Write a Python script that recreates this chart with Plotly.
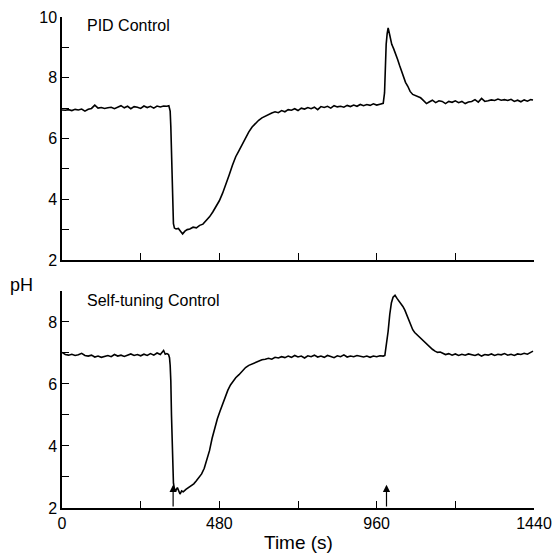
import plotly.graph_objects as go

# ---- data ----
pid_t = [0,10,20,30,40,50,60,70,80,90,100,110,120,130,140,150,160,170,180,190,200,210,220,230,240,250,260,270,280,290,300,310,320,326,
         330,332,334,336,338,340,343,348,355,362,368,375,382,390,400,410,420,430,440,450,460,470,480,490,500,510,520,530,540,550,560,570,580,590,
         600,610,620,630,640,650,660,670,680,690,700,710,720,730,740,750,760,770,780,790,800,810,820,830,840,850,860,870,880,890,900,910,920,930,
         940,950,960,970,975,980,984,986,989,992,995,1000,1006,1012,1018,1024,1030,1036,1042,1048,1055,1062,1070,1078,1086,1094,1100,1106,1112,
         1120,1130,1140,1150,1160,1170,1180,1190,1200,1210,1220,1230,1240,1250,1260,1270,1280,1290,1300,1310,1320,1330,1340,1350,1360,1370,1380,
         1390,1400,1410,1420,1430,1437]
pid_ph = [6.94,6.93,6.95,6.92,6.96,6.94,6.97,6.90,6.96,6.99,7.10,7.00,7.02,6.99,7.01,7.03,6.98,7.02,7.08,7.01,7.06,6.98,7.05,7.03,6.99,7.07,7.02,7.06,7.00,7.07,7.04,7.07,7.06,7.08,
          6.90,6.40,5.50,4.50,3.70,3.20,3.05,3.02,3.04,2.92,2.86,2.95,3.00,3.02,3.08,3.06,3.14,3.18,3.30,3.42,3.58,3.75,3.95,4.20,4.47,4.80,5.12,5.40,5.60,5.82,6.02,6.22,6.38,6.50,
          6.60,6.68,6.74,6.80,6.84,6.88,6.85,6.92,6.88,6.95,6.93,6.98,6.92,7.00,6.97,7.02,6.98,7.03,6.95,7.05,7.02,7.06,7.00,7.08,7.04,7.06,7.03,7.09,7.05,7.10,7.06,7.12,7.08,7.12,
          7.09,7.14,7.10,7.13,7.14,7.16,7.50,8.20,9.10,9.45,9.64,9.40,9.10,8.95,8.80,8.60,8.40,8.20,8.00,7.85,7.72,7.55,7.45,7.42,7.38,7.34,7.28,7.22,7.15,
          7.20,7.26,7.18,7.24,7.22,7.15,7.22,7.19,7.24,7.18,7.22,7.15,7.20,7.22,7.28,7.20,7.32,7.22,7.24,7.27,7.25,7.30,7.26,7.28,7.25,7.29,7.22,
          7.26,7.21,7.27,7.23,7.28,7.27]

st_t = [0,10,20,30,40,50,60,70,80,90,100,110,120,130,140,150,160,170,180,190,200,210,220,230,240,250,260,270,280,290,300,310,315,320,325,328,
        330,332,334,336,338,340,343,348,352,356,360,365,370,378,386,394,402,410,418,426,434,442,450,458,466,474,482,490,498,506,514,522,530,540,550,
        560,570,580,590,600,610,620,630,640,650,660,670,680,690,700,710,720,730,740,750,760,770,780,790,800,810,820,830,840,850,860,870,880,890,
        900,910,920,930,940,950,960,970,980,985,990,995,1000,1005,1010,1016,1022,1028,1034,1040,1046,1052,1058,1064,1070,1076,1082,1088,1094,1100,
        1106,1112,1118,1124,1130,1138,1146,1154,1162,1170,1180,1190,1200,1210,1220,1230,1240,1250,1260,1270,1280,1290,1300,1310,1320,1330,1340,
        1350,1360,1370,1380,1390,1400,1410,1420,1430,1437]
st_ph = [7.02,6.95,6.93,6.96,6.92,6.94,6.99,6.92,6.90,6.93,6.87,6.90,6.86,6.88,6.92,6.88,6.95,6.90,6.93,6.89,6.94,6.97,6.92,6.95,6.91,6.96,6.92,6.98,6.93,7.00,6.95,7.08,6.96,6.98,6.95,6.85,
         6.60,6.10,5.00,4.00,3.20,2.80,2.62,2.58,2.66,2.52,2.45,2.55,2.52,2.60,2.66,2.72,2.78,2.88,2.98,3.10,3.28,3.55,3.85,4.25,4.60,4.88,5.12,5.37,5.60,5.80,5.97,6.10,6.20,6.30,6.42,
         6.53,6.60,6.65,6.68,6.74,6.78,6.80,6.83,6.80,6.86,6.84,6.88,6.85,6.90,6.86,6.92,6.87,6.90,6.84,6.91,6.88,6.93,6.87,6.90,6.86,6.92,6.89,6.85,6.91,6.88,6.94,6.87,6.90,6.88,
         6.92,6.89,6.87,6.90,6.86,6.90,6.88,6.91,6.90,6.92,7.25,7.70,8.25,8.62,8.80,8.86,8.76,8.68,8.60,8.50,8.38,8.22,8.06,7.92,7.75,7.66,7.60,7.52,7.47,7.40,
         7.35,7.28,7.22,7.16,7.12,7.06,7.02,7.03,6.98,6.95,6.98,6.93,6.97,6.92,6.96,6.93,6.97,6.95,6.92,6.96,6.90,6.95,6.93,6.97,6.92,6.96,6.94,
         6.98,6.93,6.96,6.92,6.97,6.95,6.99,6.96,7.02,7.06]

event_times = [339, 990]
event_ph = [2.75, 2.75]

x_tickvals = [0, 240, 480, 720, 960, 1200, 1440]
x_ticktext = ["0", "", "480", "", "960", "", "1440"]
y1_tickvals = [2, 3, 4, 5, 6, 7, 8, 9, 10]
y1_ticktext = ["2", "", "4", "", "6", "", "8", "", "10"]
y2_tickvals = [2, 3, 4, 5, 6, 7, 8, 9]
y2_ticktext = ["2", "", "4", "", "6", "", "8", ""]

FONT = "Liberation Sans, Arial, Helvetica, sans-serif"

fig = go.Figure()
fig.add_trace(go.Scatter(x=pid_t, y=pid_ph, mode="lines", line=dict(color="black", width=1.6),
                         xaxis="x", yaxis="y", showlegend=False))
fig.add_trace(go.Scatter(x=st_t, y=st_ph, mode="lines", line=dict(color="black", width=1.6),
                         xaxis="x2", yaxis="y2", showlegend=False))

axis_common = dict(showline=True, linecolor="black", linewidth=1.5, ticks="inside", ticklen=7,
                   tickwidth=1.2, tickcolor="black", showgrid=False, zeroline=False,
                   tickfont=dict(family=FONT, size=16, color="black"), automargin=False)

fig.update_layout(
    width=555, height=554,
    margin=dict(l=62, r=21, t=17, b=46),
    paper_bgcolor="white", plot_bgcolor="white",
    font=dict(family=FONT, color="black"),
    xaxis=dict(domain=[0, 1], range=[0, 1440], anchor="y", tickmode="array", tickvals=x_tickvals,
               showticklabels=False, **axis_common),
    yaxis=dict(domain=[0.5051, 1.0], range=[2, 10], anchor="x", tickmode="array", tickvals=y1_tickvals,
               ticktext=y1_ticktext, **axis_common),
    xaxis2=dict(domain=[0, 1], range=[0, 1440], anchor="y2", tickmode="array", tickvals=x_tickvals,
                ticktext=x_ticktext, **axis_common),
    yaxis2=dict(domain=[0, 0.4420], range=[2, 9], anchor="x2", tickmode="array", tickvals=y2_tickvals,
                ticktext=y2_ticktext, **axis_common),
)

annotations = [
    dict(text="PID Control", xref="x domain", yref="y domain", x=0.049, y=0.963, xanchor="left",
         yanchor="middle", showarrow=False, font=dict(family=FONT, size=16, color="black")),
    dict(text="Self-tuning Control", xref="x2 domain", yref="y2 domain", x=0.049, y=0.958, xanchor="left",
         yanchor="middle", showarrow=False, font=dict(family=FONT, size=16, color="black")),
    dict(text="pH", xref="paper", yref="paper", x=-0.085, y=0.455, xanchor="center", yanchor="middle",
         showarrow=False, font=dict(family=FONT, size=18, color="black")),
    dict(text="Time (s)", xref="paper", yref="paper", x=0.5, y=-0.071, xanchor="center", yanchor="middle",
         showarrow=False, font=dict(family=FONT, size=19, color="black")),
]
for t, p in zip(event_times, event_ph):
    annotations.append(dict(x=t, y=p, xref="x2", yref="y2", ax=t, ay=2.0, axref="x2", ayref="y2",
                            text="", showarrow=True, arrowhead=2, arrowsize=1.2, arrowwidth=1.2,
                            arrowcolor="black"))
fig.update_layout(annotations=annotations)

fig.write_html("out.html", config={"displayModeBar": False},
               post_script="document.body.style.margin='0';document.body.style.overflow='hidden';")
